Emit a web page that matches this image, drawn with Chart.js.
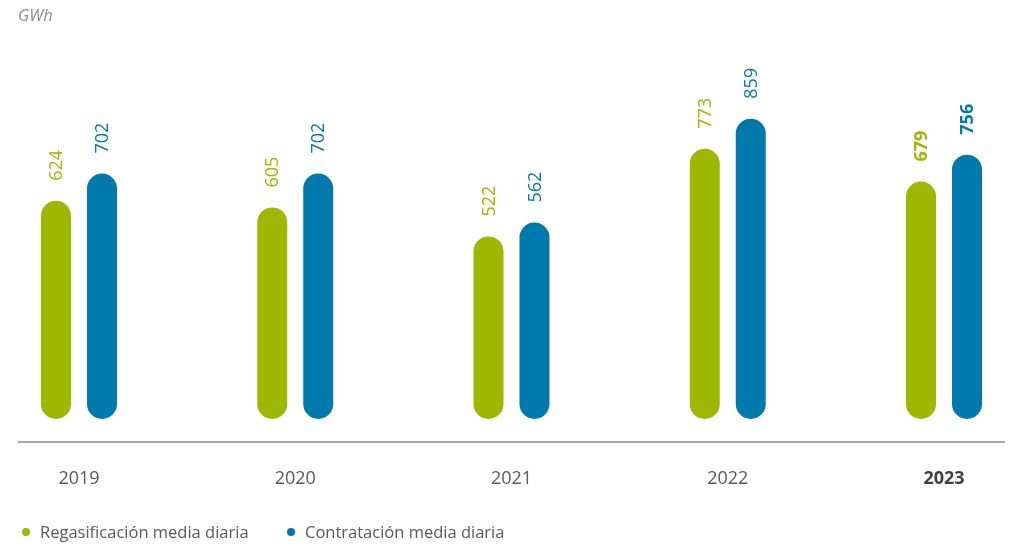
<!DOCTYPE html>
<html>
<head>
    <meta charset="utf-8">
    <title>Regasificación y contratación media diaria</title>
    <script src="https://cdn.jsdelivr.net/npm/chart.js"></script>
    <style>
        body { margin: 0; background: #fff; font-family: "Open Sans", Arial, sans-serif; }
        .wrap { position: relative; width: 1013px; height: 545px; }
        .legend { position: absolute; left: 0; top: 520px; width: 1013px; height: 24px; }
        .legend-item { position: absolute; top: 0; display: flex; align-items: center; font-size: 16.5px; color: #58595b; white-space: nowrap; }
        .legend-item .dot { width: 8px; height: 8px; border-radius: 50%; margin-right: 10px; }
    </style>
</head>
<body>
    <div class="wrap">
        <canvas id="gasChart"></canvas>
        <div class="legend" id="legend"></div>
    </div>

    <script>
        const years = ['2019', '2020', '2021', '2022', '2023'];
        const regasificacion = [624, 605, 522, 773, 679];
        const contratacion = [702, 702, 562, 859, 756];
        const seriesNames = ['Regasificación media diaria', 'Contratación media diaria'];
        const seriesColors = ['#9cb800', '#0079ad'];
        const highlightIndex = 4; // 2023 in bold

        // rotated value labels above each bar
        const valueLabels = {
            id: 'valueLabels',
            afterDatasetsDraw(chart) {
                const ctx = chart.ctx;
                chart.data.datasets.forEach((ds, i) => {
                    chart.getDatasetMeta(i).data.forEach((bar, j) => {
                        ctx.save();
                        ctx.translate(bar.x + 1, bar.y - 20);
                        ctx.rotate(-Math.PI / 2);
                        ctx.textAlign = 'left';
                        ctx.textBaseline = 'middle';
                        ctx.fillStyle = ds.backgroundColor;
                        ctx.font = (j === highlightIndex ? 'bold ' : '') + '18px "Open Sans"';
                        ctx.fillText(ds.data[j], 0, 0);
                        ctx.restore();
                    });
                });
            }
        };

        // baseline across the whole plot width
        const baseline = {
            id: 'baseline',
            afterDraw(chart) {
                const ctx = chart.ctx;
                const y = chart.chartArea.bottom;
                ctx.save();
                ctx.strokeStyle = '#8c8c8c';
                ctx.lineWidth = 1.5;
                ctx.beginPath();
                ctx.moveTo(18, y);
                ctx.lineTo(chart.width - 8, y);
                ctx.stroke();
                ctx.restore();
            }
        };

        const ctx = document.getElementById('gasChart').getContext('2d');
        const chart = new Chart(ctx, {
            type: 'bar',
            data: {
                labels: years,
                datasets: [
                    { label: seriesNames[0], data: regasificacion, backgroundColor: seriesColors[0], clip: false },
                    { label: seriesNames[1], data: contratacion, backgroundColor: seriesColors[1], clip: false }
                ]
            },
            options: {
                responsive: true,
                maintainAspectRatio: false,
                animation: false,
                categoryPercentage: 0.4254,
                barPercentage: 0.652,
                borderRadius: 15,
                borderSkipped: false,
                layout: { padding: { left: 18, right: 8, top: 0, bottom: 58 } },
                plugins: {
                    legend: { display: false },
                    tooltip: { enabled: false },
                    title: {
                        display: true,
                        text: 'GWh',
                        align: 'start',
                        color: '#8a8a8a',
                        font: { family: 'Open Sans', size: 16.5, style: 'italic', weight: 'normal' },
                        padding: { top: 6, bottom: 38 }
                    }
                },
                scales: {
                    x: {
                        offset: false,
                        grid: { display: false, drawTicks: false },
                        border: { display: false },
                        afterFit: s => { s.height = 45; },
                        ticks: {
                            padding: 26,
                            color: c => c.index === highlightIndex ? '#404042' : '#58595b',
                            font: c => ({ family: 'Open Sans', size: 18, weight: c.index === highlightIndex ? 'bold' : 'normal' })
                        }
                    },
                    y: {
                        min: -66,
                        max: 1016,
                        grid: { display: false },
                        border: { display: false },
                        ticks: { display: false },
                        afterFit: s => { s.width = 61; }
                    },
                    y2: {
                        position: 'right',
                        display: true,
                        grid: { display: false },
                        border: { display: false },
                        ticks: { display: false },
                        afterFit: s => { s.width = 61; }
                    }
                }
            },
            plugins: [valueLabels, baseline]
        });

        // html legend built from the datasets
        const legendLeft = [22, 287];
        const legendEl = document.getElementById('legend');
        chart.data.datasets.forEach((ds, i) => {
            const item = document.createElement('div');
            item.className = 'legend-item';
            item.style.left = legendLeft[i] + 'px';
            item.innerHTML = '<span class="dot" style="background:' + ds.backgroundColor + '"></span>' + ds.label;
            legendEl.appendChild(item);
        });
    </script>
</body>
</html>
